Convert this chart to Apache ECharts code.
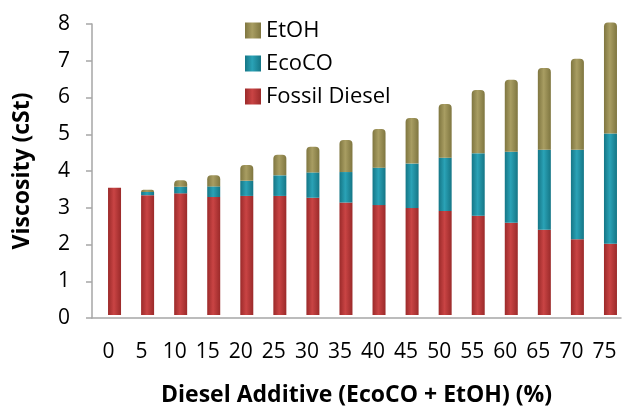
<!DOCTYPE html>
<html>
<head>
<meta charset="utf-8">
<script src="https://cdn.jsdelivr.net/npm/echarts@6/dist/echarts.min.js"></script>
<style>
  html, body { margin: 0; padding: 0; background: #fff; }
  #chart { width: 623px; height: 407px; }
</style>
</head>
<body>
<div id="chart"></div>
<script>
// additive share (%) on the x axis
const additive = ['0', '5', '10', '15', '20', '25', '30', '35', '40', '45', '50', '55', '60', '65', '70', '75'];
// viscosity contributions in cSt
const fossilDiesel = [3.46, 3.26, 3.31, 3.21, 3.24, 3.24, 3.19, 3.06, 2.99, 2.91, 2.83, 2.70, 2.51, 2.32, 2.06, 1.94];
const ecoCO        = [0.00, 0.09, 0.18, 0.29, 0.41, 0.56, 0.69, 0.83, 1.02, 1.21, 1.45, 1.70, 1.93, 2.18, 2.44, 3.00];
const etOH         = [0.00, 0.06, 0.18, 0.30, 0.43, 0.56, 0.70, 0.87, 1.05, 1.24, 1.46, 1.72, 1.96, 2.22, 2.47, 3.02];

const FONT = 'Open Sans';

// cylinder-ish shading: darker at the edges, lighter in the middle
function tube(dark, mid) {
  return new echarts.graphic.LinearGradient(0, 0, 1, 0, [
    { offset: 0, color: dark },
    { offset: 0.45, color: mid },
    { offset: 1, color: dark }
  ]);
}

const chart = echarts.init(document.getElementById('chart'));

chart.setOption({
  animation: false,
  textStyle: { fontFamily: FONT },
  legend: {
    orient: 'vertical',
    left: 240,
    top: 14,
    itemWidth: 16,
    itemHeight: 16,
    itemGap: 10,
    icon: 'rect',
    data: ['EtOH', 'EcoCO', 'Fossil Diesel'],
    textStyle: { fontFamily: FONT, fontSize: 22, color: '#000', lineHeight: 23 }
  },
  grid: [
    // axes grid
    { left: 92, top: 24, width: 529, bottom: 89, outerBoundsMode: 'none' },
    // bars sit slightly right/up (3D look of the original)
    { left: 98, top: 21, width: 529, bottom: 92, outerBoundsMode: 'none' }
  ],
  xAxis: [
    {
      gridIndex: 0,
      type: 'category',
      data: additive,
      axisLine: { lineStyle: { color: '#a6a6a6', width: 1.5 } },
      axisTick: { length: 6, lineStyle: { color: '#a6a6a6', width: 1.5 } },
      axisLabel: { color: '#000', fontSize: 21, margin: 24, interval: 0 },
      name: 'Diesel Additive (EcoCO + EtOH) (%)',
      nameLocation: 'middle',
      nameGap: 66,
      nameTextStyle: { color: '#000', fontSize: 23, fontWeight: 'bold' }
    },
    {
      gridIndex: 1,
      type: 'category',
      data: additive,
      show: false
    }
  ],
  yAxis: [
    {
      gridIndex: 0,
      type: 'value',
      min: 0,
      max: 8,
      interval: 1,
      axisLine: { show: true, lineStyle: { color: '#a6a6a6', width: 1.5 } },
      axisTick: { show: true, length: 6, lineStyle: { color: '#a6a6a6', width: 1.5 } },
      splitLine: { show: false },
      axisLabel: { color: '#000', fontSize: 21, margin: 22 },
      name: 'Viscosity (cSt)',
      nameLocation: 'middle',
      nameGap: 58,
      nameTextStyle: { color: '#000', fontSize: 23, fontWeight: 'bold' }
    },
    {
      gridIndex: 1,
      type: 'value',
      min: 0,
      max: 8,
      show: false
    }
  ],
  series: [
    {
      name: 'Fossil Diesel',
      type: 'bar',
      stack: 'v',
      xAxisIndex: 1,
      yAxisIndex: 1,
      barWidth: 13,
      data: fossilDiesel,
      itemStyle: { color: tube('#9b2a2a', '#c94444') }
    },
    {
      name: 'EcoCO',
      type: 'bar',
      stack: 'v',
      xAxisIndex: 1,
      yAxisIndex: 1,
      barWidth: 13,
      data: ecoCO,
      itemStyle: { color: tube('#157686', '#2aa2b6') }
    },
    {
      name: 'EtOH',
      type: 'bar',
      stack: 'v',
      xAxisIndex: 1,
      yAxisIndex: 1,
      barWidth: 13,
      data: etOH,
      itemStyle: { color: tube('#7f7640', '#a89d62'), borderRadius: [4, 4, 0, 0] }
    }
  ],
  color: ['#b03434', '#1e8a9e', '#948a52']
});
</script>
</body>
</html>
